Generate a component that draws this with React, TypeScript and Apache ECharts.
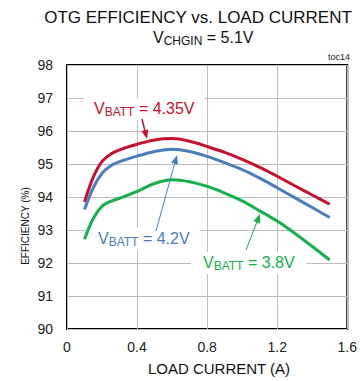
import React, { useEffect, useRef } from "react";
import * as echarts from "echarts";

const loadCurrent = [0.1, 0.15, 0.2, 0.25, 0.3, 0.4, 0.5, 0.6, 0.7, 0.8, 0.9, 1.0, 1.1, 1.2, 1.3, 1.4, 1.5];
const eff435 = [93.85, 94.6, 95.08, 95.3, 95.43, 95.6, 95.73, 95.77, 95.69, 95.53, 95.35, 95.14, 94.9, 94.63, 94.34, 94.06, 93.78];
const eff42 = [93.62, 94.28, 94.72, 94.95, 95.07, 95.24, 95.38, 95.45, 95.38, 95.23, 95.04, 94.83, 94.57, 94.28, 93.98, 93.68, 93.38];
const eff38 = [92.72, 93.35, 93.72, 93.87, 93.96, 94.17, 94.41, 94.52, 94.46, 94.32, 94.12, 93.88, 93.58, 93.27, 92.9, 92.5, 92.09];

const seriesNames = ["VBATT = 4.35V", "VBATT = 4.2V", "VBATT = 3.8V"];
const xTicks = [0, 0.4, 0.8, 1.2, 1.6];
const yTicks = [90, 91, 92, 93, 94, 95, 96, 97, 98];

const RED = "#c8102e";
const BLUE = "#4a7ebb";
const GREEN = "#13b04b";
const FONT = "'Liberation Sans', Arial, sans-serif";

function arrow(sx: number, sy: number, tx: number, ty: number, color: string, lw: number) {
  const dx = tx - sx;
  const dy = ty - sy;
  const len = Math.sqrt(dx * dx + dy * dy);
  const ux = dx / len;
  const uy = dy / len;
  const L = 9;
  const w = 3.5;
  const bx = tx - ux * L;
  const by = ty - uy * L;
  const px = -uy;
  const py = ux;
  return [
    {
      type: "line",
      z: 5,
      shape: { x1: sx, y1: sy, x2: bx + ux * 2, y2: by + uy * 2 },
      style: { stroke: color, lineWidth: lw },
    },
    {
      type: "polygon",
      z: 5,
      shape: {
        points: [
          [tx, ty],
          [bx + px * w, by + py * w],
          [bx - px * w, by - py * w],
        ],
      },
      style: { fill: color },
    },
  ];
}

function subLabel(x: number, y: number, main: string, sub: string, rest: string, color: string, mainSize: number, subSize: number, bg: boolean, pad: number[]) {
  return {
    type: "text",
    z: 1,
    x,
    y,
    style: {
      text: `{m|${main}}{s|${sub}}{m|${rest}}`,
      align: "left",
      verticalAlign: "top",
      fill: color,
      backgroundColor: bg ? "#ffffff" : "transparent",
      padding: pad,
      rich: {
        m: { fontSize: mainSize, fontFamily: FONT, fill: color, lineHeight: 18, verticalAlign: "top" },
        s: { fontSize: subSize, fontFamily: FONT, fill: color, lineHeight: 18, verticalAlign: "top", padding: [6, 0, 0, 0] },
      },
    },
  };
}

export default function App() {
  const ref = useRef<HTMLDivElement>(null);
  useEffect(() => {
    document.body.style.margin = "0";
    if (!ref.current) return;
    const chart = echarts.init(ref.current, undefined, { renderer: "svg" });
    const mk = (vals: number[]) => loadCurrent.map((x, i) => [x, vals[i]]);
    chart.setOption({
      animation: false,
      backgroundColor: "#ffffff",
      grid: {
        left: 67,
        right: 11,
        top: 65,
        bottom: 52,
        show: true,
        borderColor: "#000000",
        borderWidth: 2,
        backgroundColor: "transparent",
      },
      xAxis: {
        type: "value",
        min: xTicks[0],
        max: xTicks[xTicks.length - 1],
        interval: 0.4,
        axisLine: { show: false },
        axisTick: { show: false },
        axisLabel: {
          margin: 11,
          fontSize: 14,
          fontFamily: FONT,
          color: "#222",
          formatter: (v: number) => (v === 0 ? "0" : v.toFixed(1)),
        },
        splitLine: { show: true, lineStyle: { color: "#bdbdbd", width: 1 } },
      },
      yAxis: {
        type: "value",
        min: yTicks[0],
        max: yTicks[yTicks.length - 1],
        interval: 1,
        axisLine: { show: false },
        axisTick: { show: false },
        axisLabel: { margin: 14, fontSize: 14, fontFamily: FONT, color: "#222" },
        splitLine: { show: true, lineStyle: { color: "#bdbdbd", width: 1 } },
      },
      series: [
        { name: seriesNames[0], type: "line", data: mk(eff435), smooth: 0.35, symbol: "none", lineStyle: { color: RED, width: 3 }, z: 3 },
        { name: seriesNames[1], type: "line", data: mk(eff42), smooth: 0.35, symbol: "none", lineStyle: { color: BLUE, width: 3 }, z: 3 },
        { name: seriesNames[2], type: "line", data: mk(eff38), smooth: 0.35, symbol: "none", lineStyle: { color: GREEN, width: 3 }, z: 3 },
      ],
      graphic: [
        {
          type: "text",
          x: 198,
          y: 17,
          style: { text: "OTG EFFICIENCY vs. LOAD CURRENT", align: "center", verticalAlign: "middle", fontSize: 17, fontFamily: FONT, fill: "#111" },
        },
        subLabel(153, 29, "V", "CHGIN", " = 5.1V", "#111", 16, 12, false, [0, 0]),
        {
          type: "text",
          x: 350,
          y: 57,
          style: { text: "toc14", align: "right", verticalAlign: "middle", fontSize: 9, fontFamily: FONT, fill: "#222" },
        },
        {
          type: "text",
          x: 219,
          y: 368,
          style: { text: "LOAD CURRENT (A)", align: "center", verticalAlign: "middle", fontSize: 15, fontFamily: FONT, fill: "#111" },
        },
        {
          type: "text",
          x: 25,
          y: 226,
          rotation: Math.PI / 2,
          style: { text: "EFFICIENCY (%)", align: "center", verticalAlign: "middle", fontSize: 10, fontFamily: FONT, fill: "#111" },
        },
        subLabel(84, 98, "V", "BATT", " = 4.35V", RED, 16, 12, true, [2, 10]),
        subLabel(88, 228, "V", "BATT", " = 4.2V", BLUE, 16, 12, true, [2, 10]),
        subLabel(191, 252, "V", "BATT", " = 3.8V", GREEN, 16, 12, true, [2, 12]),
        ...arrow(142, 119, 147, 139, RED, 1.5),
        ...arrow(156, 231, 177, 155, BLUE, 1),
        ...arrow(246, 250, 260, 214, GREEN, 1),
      ],
    });
    return () => chart.dispose();
  }, []);
  return <div ref={ref} style={{ width: 360, height: 381 }} />;
}
